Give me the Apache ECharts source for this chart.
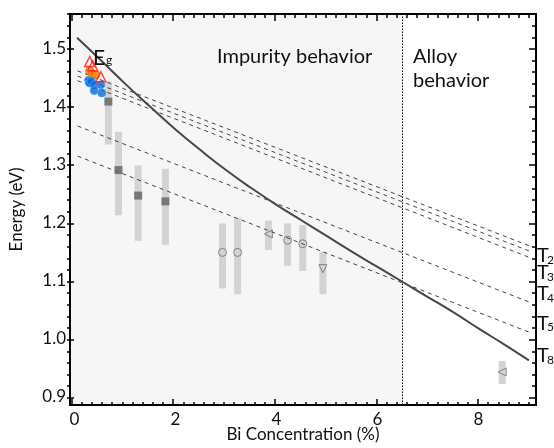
<!DOCTYPE html>
<html>
<head>
<meta charset="utf-8">
<script src="https://cdn.jsdelivr.net/npm/echarts@6/dist/echarts.min.js"></script>
<style>
html,body{margin:0;padding:0;background:#fff;}
#chart{width:554px;height:448px;}
</style>
</head>
<body>
<div id="chart"></div>
<script>
// ---- Data ----
const xTicks = [0, 2, 4, 6, 8];
const yTicks = [0.9, 1.0, 1.1, 1.2, 1.3, 1.4, 1.5];
const boundaryX = 6.5;

// Eg band-gap curve
const egCurve = [[0.05,1.519],[0.5,1.482],[1.0,1.440],[1.5,1.400],[2.0,1.361],[2.5,1.325],[3.0,1.291],[3.5,1.260],[4.0,1.231],[4.5,1.204],[5.0,1.177],[5.5,1.150],[6.0,1.124],[6.5,1.098],[7.0,1.072],[7.5,1.046],[8.0,1.018],[8.5,0.991],[9.0,0.963]];

// dashed lines (T2, T3, T4, T5, T8)
const lineT2 = [[0.06,1.462],[9.02,1.160]];
const lineT3 = [[0.06,1.453],[9.02,1.151]];
const lineT4 = [[0.06,1.445],[9.02,1.140]];
const lineT5 = [[0.06,1.367],[9.02,1.063]];
const lineT8 = [[0.06,1.315],[9.02,1.011]];

// gray filled squares and error bars [x, low, high]
const squares = [[0.67,1.409],[0.87,1.291],[1.26,1.247],[1.80,1.237]];
const squareBars = [[0.67,1.335,1.444],[0.87,1.213,1.357],[1.26,1.169,1.299],[1.80,1.162,1.293]];
// open circles
const circles = [[2.93,1.149],[3.23,1.149],[4.22,1.170],[4.52,1.164]];
const circleBars = [[2.93,1.087,1.199],[3.23,1.077,1.209],[4.22,1.126,1.199],[4.52,1.117,1.196]];
// left-pointing triangles
const leftTri = [[3.84,1.181],[8.47,0.943]];
const leftTriBars = [[3.84,1.153,1.204],[8.47,0.922,0.962]];
// down-pointing triangle
const downTri = [[4.92,1.121]];
const downTriBars = [[4.92,1.077,1.150]];

// colored low-x points
const redTri = [[0.30,1.478],[0.36,1.471],[0.52,1.452]];
const orangeDots = [[0.30,1.462],[0.35,1.457],[0.42,1.455]];
const blueDots = [[0.28,1.446],[0.30,1.441],[0.33,1.444],[0.39,1.438],[0.52,1.438],[0.39,1.428],[0.54,1.424]];

// ---- Chart ----
const W = 554, H = 448;
const xMin = -0.09, xMax = 9.14, yMin = 0.886, yMax = 1.56;
const GL = 67, GR = 18, GT = 14, GB = 42;
const pxX = (W - GL - GR) / (xMax - xMin);
const pxY = (H - GT - GB) / (yMax - yMin);
// tick grids start at round values so intervals count from a round min
const tX0 = 0, tY0 = 0.9;
const G  = {left:GL, right:GR, top:GT, bottom:GB};
const GX = {left: GL + (tX0 - xMin) * pxX, right: GR, top: GT, bottom: GB};   // x-tick grid: same top/bottom edges
const GY = {left: GL, right: GR, top: GT, bottom: GB + (tY0 - yMin) * pxY};   // y-tick grid: same left/right edges

const FONT = 'Lato';
const tickStyle = {color:'#000', width:1.5};

function tickX(grid, pos, interval, len){
  return {type:'value', gridIndex:grid, position:pos, min:tX0, max:xMax, interval:interval, z:10,
    axisLine:{show:false}, axisLabel:{show:false}, splitLine:{show:false},
    axisTick:{show:true, inside:true, length:len, lineStyle:tickStyle}};
}
function tickY(grid, pos, interval, len){
  return {type:'value', gridIndex:grid, position:pos, min:tY0, max:yMax, interval:interval, z:10,
    axisLine:{show:false}, axisLabel:{show:false}, splitLine:{show:false},
    axisTick:{show:true, inside:true, length:len, lineStyle:tickStyle}};
}
function dummy(grid){ return {type:'value', gridIndex:grid, show:false, min:0, max:1}; }

const barRender = function(params, api){
  const x = api.value(0), lo = api.value(1), hi = api.value(2);
  const p1 = api.coord([x, hi]), p2 = api.coord([x, lo]);
  return {type:'rect', shape:{x:p1[0]-3.5, y:p1[1], width:7, height:p2[1]-p1[1]}, style:{fill:'#d3d3d3'}};
};
function barSeries(d){ return {type:'custom', renderItem:barRender, data:d, encode:{x:0, y:[1,2]}, z:3, silent:true}; }
function dashSeries(d){ return {type:'line', data:d, symbol:'none', lineStyle:{color:'#444', width:1, type:[4,4]}, z:4, silent:true}; }

function txt(s, x, y, size){ return {type:'text', x:x, y:y, z:100, style:{text:s, font:size+'px '+FONT, fill:'#111', textBaseline:'alphabetic'}}; }

const lineStyleAx = {show:true, onZero:false, lineStyle:{color:'#000', width:2}};

const chart = echarts.init(document.getElementById('chart'), null, {renderer:'canvas'});
chart.setOption({
  animation:false,
  backgroundColor:'#fff',
  grid:[G, Object.assign({}, GX), Object.assign({}, GX), Object.assign({}, GY), Object.assign({}, GY)],
  xAxis:[
    {type:'value', gridIndex:0, position:'bottom', min:xMin, max:xMax, z:10,
     axisLine:lineStyleAx, axisTick:{show:false}, splitLine:{show:false},
     axisLabel:{show:true, customValues:xTicks, color:'#111', fontSize:17, fontFamily:FONT, margin:6, formatter:v=>String(v)},
     name:'Bi Concentration (%)', nameLocation:'middle', nameGap:21, nameMoveOverlap:false, nameTextStyle:{fontSize:17, lineHeight:17, fontFamily:FONT, color:'#111'}},
    {type:'value', gridIndex:0, position:'top', min:xMin, max:xMax, z:10,
     axisLine:lineStyleAx, axisTick:{show:false}, axisLabel:{show:false}, splitLine:{show:false}},
    tickX(1, 'bottom', 2, 7), tickX(1, 'top', 2, 7),
    tickX(2, 'bottom', 0.2, 4), tickX(2, 'top', 0.2, 4),
    dummy(3), dummy(4)
  ],
  yAxis:[
    {type:'value', gridIndex:0, position:'left', min:yMin, max:yMax, z:10,
     axisLine:lineStyleAx, axisTick:{show:false}, splitLine:{show:false},
     axisLabel:{show:true, customValues:yTicks, color:'#111', fontSize:17, fontFamily:FONT, margin:4, formatter:v=>v.toFixed(1)},
     name:'Energy (eV)', nameLocation:'middle', nameGap:44, nameMoveOverlap:false, nameTextStyle:{fontSize:17, lineHeight:18, fontFamily:FONT, color:'#111'}},
    {type:'value', gridIndex:0, position:'right', min:yMin, max:yMax, z:10,
     axisLine:lineStyleAx, axisTick:{show:false}, axisLabel:{show:false}, splitLine:{show:false}},
    dummy(1), dummy(2),
    tickY(3, 'left', 0.1, 7), tickY(3, 'right', 0.1, 7),
    tickY(4, 'left', 0.02, 4), tickY(4, 'right', 0.02, 4)
  ],
  series:[
    {type:'line', data:[], z:0, markArea:{silent:true, itemStyle:{color:'rgba(0,0,0,0.035)'}, data:[[{xAxis:xMin},{xAxis:boundaryX}]]},
     markLine:{silent:true, symbol:'none', label:{show:false}, lineStyle:{color:'#000', width:1, type:[1.5,1.5]}, data:[{xAxis:boundaryX}]}},
    barSeries(squareBars), barSeries(circleBars), barSeries(leftTriBars), barSeries(downTriBars),
    dashSeries(lineT2), dashSeries(lineT3), dashSeries(lineT4), dashSeries(lineT5), dashSeries(lineT8),
    {type:'line', data:egCurve, smooth:true, symbol:'none', lineStyle:{color:'#474747', width:2}, z:5, silent:true},
    {type:'scatter', data:squares, symbol:'rect', symbolSize:8, itemStyle:{color:'#606060'}, z:6, silent:true},
    {type:'scatter', data:circles, symbol:'circle', symbolSize:8, itemStyle:{color:'rgba(0,0,0,0)', borderColor:'#6a6a6a', borderWidth:1}, z:6, silent:true},
    {type:'scatter', data:leftTri, symbol:'triangle', symbolRotate:90, symbolSize:8, itemStyle:{color:'rgba(0,0,0,0)', borderColor:'#6a6a6a', borderWidth:1}, z:6, silent:true},
    {type:'scatter', data:downTri, symbol:'triangle', symbolRotate:180, symbolSize:8, itemStyle:{color:'rgba(0,0,0,0)', borderColor:'#6a6a6a', borderWidth:1}, z:6, silent:true},
    {type:'scatter', data:orangeDots, symbol:'circle', symbolSize:8, itemStyle:{color:'#ff8a00', borderColor:'#ff5a00', borderWidth:1}, z:7, silent:true},
    {type:'scatter', data:blueDots, symbol:'circle', symbolSize:8, itemStyle:{color:'#1266d6', borderColor:'#2aa2ff', borderWidth:1}, z:8, silent:true},
    {type:'scatter', data:redTri, symbol:'triangle', symbolSize:10, itemStyle:{color:'rgba(0,0,0,0)', borderColor:'#ff1a1a', borderWidth:1.5}, z:9, silent:true}
  ],
  graphic:{elements:[
    txt('E', 93, 48, 21), txt('g', 106, 54, 12),
    txt('Impurity behavior', 217, 47, 20),
    txt('Alloy', 413, 47, 20), txt('behavior', 413, 71, 20),
    txt('T', 537, 246, 20), txt('2', 547, 254, 12),
    txt('T', 537, 263, 20), txt('3', 547, 271, 12),
    txt('T', 537, 284, 20), txt('4', 547, 292, 12),
    txt('T', 537, 314, 20), txt('5', 547, 321, 12),
    txt('T', 537, 346, 20), txt('8', 547, 354, 12)
  ]}
});
</script>
</body>
</html>
